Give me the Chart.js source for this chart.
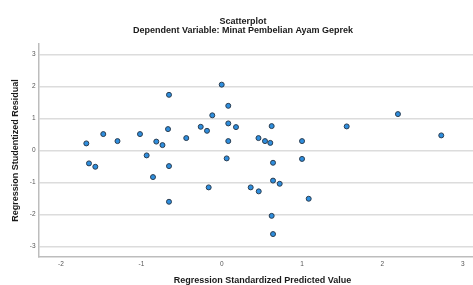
<!DOCTYPE html>
<html>
<head>
<meta charset="utf-8">
<script src="https://cdn.jsdelivr.net/npm/chart.js@4/dist/chart.umd.min.js"></script>
<style>
  html, body { margin: 0; padding: 0; overflow: hidden; background: #fff; }
  #wrap { width: 494px; height: 285px; }
</style>
</head>
<body>
<div id="wrap"><canvas id="grafico" width="494" height="285"></canvas></div>
<script>
// valores (predicho estandarizado vs residuo studentizado)
const predichos = [-1.685, -1.652, -1.573, -1.474, -1.297, -1.017, -0.934, -0.855, -0.814, -0.737,
  -0.668, -0.656, -0.656, -0.656, -0.441, -0.261, -0.183, -0.162, -0.117, 0.000,
  0.062, 0.082, 0.082, 0.082, 0.178, 0.361, 0.458, 0.461, 0.539, 0.605,
  0.622, 0.622, 0.639, 0.639, 0.639, 0.722, 1.000, 1.000, 1.083, 1.556,
  2.194, 2.733];
const residuos = [0.222, -0.403, -0.509, 0.513, 0.294, 0.513, -0.153, -0.831, 0.278, 0.169,
  0.669, 1.741, -0.488, -1.603, 0.388, 0.741, 0.616, -1.153, 1.100, 2.059,
  -0.247, 1.397, 0.847, 0.294, 0.731, -1.153, 0.388, -1.278, 0.294, 0.238,
  0.763, -2.044, -0.384, -0.941, -2.613, -1.041, 0.294, -0.263, -1.509, 0.753,
  1.138, 0.472];
const ticksX = [-2, -1, 0, 1, 2, 3];
const ticksY = [-3, -2, -1, 0, 1, 2, 3];

const fuente = "'Liberation Sans', Arial, sans-serif";
const puntos = predichos.map((x, i) => ({ x: x, y: residuos[i] }));

const ctx = document.getElementById('grafico').getContext('2d');
new Chart(ctx, {
  type: 'scatter',
  data: {
    datasets: [{
      data: puntos,
      backgroundColor: '#2e8ede',
      borderColor: '#2b3d50',
      borderWidth: 1,
      pointRadius: 2.5,
      pointHoverRadius: 2.5
    }]
  },
  options: {
    responsive: false,
    animation: false,
    layout: { padding: { right: 8 } },
    plugins: {
      legend: { display: false },
      tooltip: { enabled: false },
      title: {
        display: true,
        text: 'Scatterplot',
        color: '#1a1a1a',
        font: { family: fuente, size: 9, weight: 'bold', lineHeight: 1 },
        padding: { top: 17, bottom: 0 }
      },
      subtitle: {
        display: true,
        text: 'Dependent Variable: Minat Pembelian Ayam Geprek',
        color: '#1a1a1a',
        font: { family: fuente, size: 9, weight: 'bold', lineHeight: 1 },
        padding: { top: 0, bottom: 9 }
      }
    },
    scales: {
      x: {
        type: 'linear',
        min: -2.274,
        max: 3.29,
        afterBuildTicks: (s) => { s.ticks = ticksX.map(v => ({ value: v })); },
        afterFit: (s) => { s.height = 28; },
        grid: { display: false, drawTicks: false },
        border: { display: true, color: '#bdbdbd', width: 1.5 },
        ticks: {
          color: '#555',
          padding: 3,
          font: { family: fuente, size: 6.5 }
        },
        title: {
          display: true,
          text: 'Regression Standardized Predicted Value',
          color: '#1a1a1a',
          font: { family: fuente, size: 9, weight: 'bold', lineHeight: 1 },
          padding: { top: 0, bottom: 0 }
        }
      },
      y: {
        min: -3.33,
        max: 3.33,
        afterBuildTicks: (s) => { s.ticks = ticksY.map(v => ({ value: v })); },
        afterFit: (s) => { s.width = 39; },
        grid: { color: '#dcdcdc', lineWidth: 1.5, drawTicks: false },
        border: { display: true, color: '#bdbdbd', width: 1.5 },
        ticks: {
          color: '#555',
          padding: 3.5,
          font: { family: fuente, size: 6.5 }
        },
        title: {
          display: true,
          text: 'Regression Studentized Residual',
          color: '#1a1a1a',
          font: { family: fuente, size: 9, weight: 'bold', lineHeight: 1 },
          padding: { top: 11.5, bottom: 0 }
        }
      }
    }
  }
});
</script>
</body>
</html>
